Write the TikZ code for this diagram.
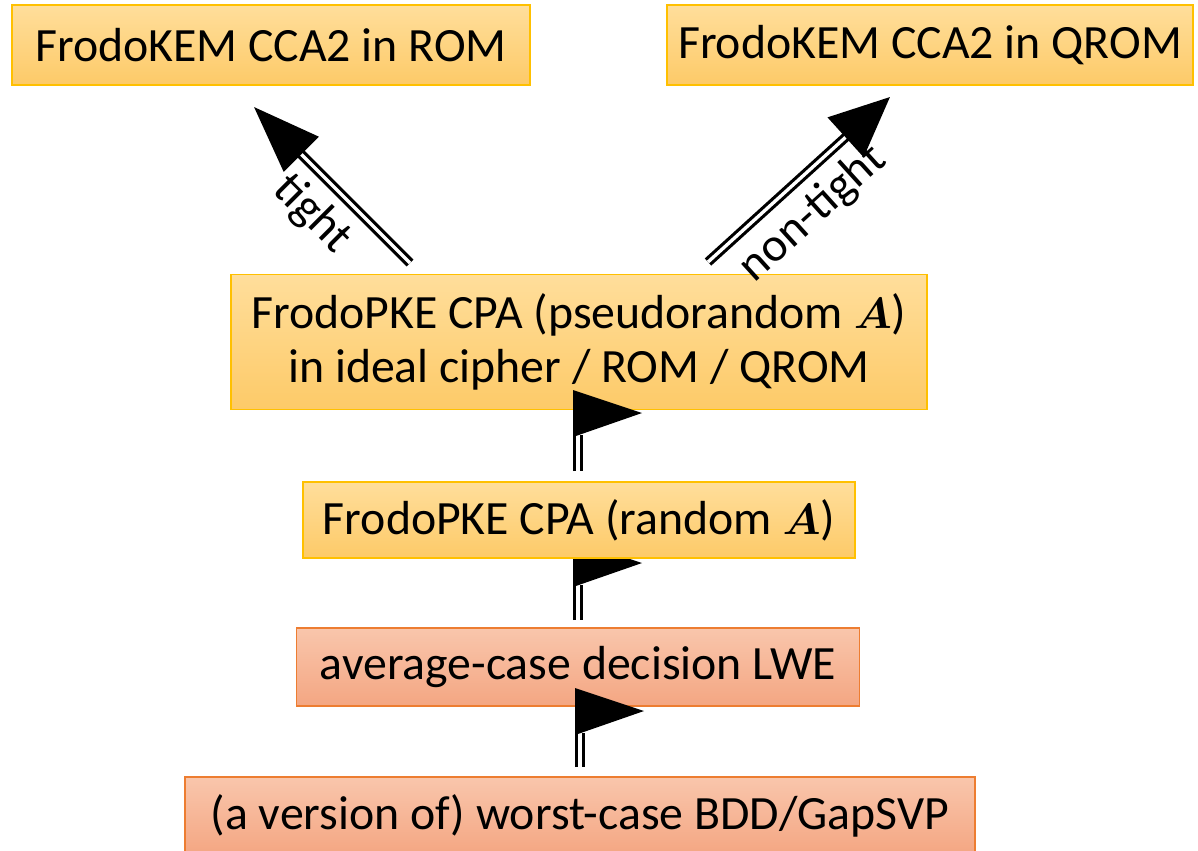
\documentclass[tikz,border=0pt]{standalone}
\usepackage{fontspec}
\setmainfont{Carlito}
\usepackage{amsmath}
\usetikzlibrary{arrows.meta,backgrounds}

\definecolor{ytop}{RGB}{255,222,155}
\definecolor{ybot}{RGB}{253,202,104}
\definecolor{yline}{RGB}{255,192,0}
\definecolor{otop}{RGB}{249,198,172}
\definecolor{obot}{RGB}{244,166,130}
\definecolor{oline}{RGB}{237,125,49}

\tikzset{
  box/.style={draw, line width=1pt, inner sep=0pt, align=center, font=\fontsize{27.2}{31}\selectfont},
  ybox/.style={box, draw=yline, top color=ytop, bottom color=ybot},
  obox/.style={box, draw=oline, top color=otop, bottom color=obot},
  dbl/.style={double, line width=1.8pt, double distance=1.9pt},
  lbl/.style={sloped, below, inner sep=7pt, font=\fontsize{27.2}{31}\selectfont},
}
\newcommand{\flagtip}[1]{\fill (#1) ++(-5,2) -- ++(0,-47) -- ++(69,23) -- cycle;}

\begin{document}
\begin{tikzpicture}[x=0.02cm, y=-0.02cm]
    \path[use as bounding box, clip] (0,0) rectangle (1198,850);
    \node[ybox, minimum width=10.36cm, minimum height=1.6cm] (kemrom) at (271,45) {FrodoKEM CCA2 in ROM};
    \node[ybox, minimum width=10.52cm, minimum height=1.6cm] (kemqrom) at (930,45) {FrodoKEM CCA2 in QROM};
    \node[ybox, minimum width=13.92cm, minimum height=2.7cm] (pkeprf) at (579,342) {FrodoPKE CPA (pseudorandom $\boldsymbol{A}$)\\in ideal cipher / ROM / QROM};
    \node[ybox, minimum width=11.04cm, minimum height=1.52cm] (pkernd) at (579,520) {FrodoPKE CPA (random $\boldsymbol{A}$)};
    \node[obox, minimum width=11.26cm, minimum height=1.56cm] (lwe) at (578,667) {average-case decision LWE};
    \node[obox, minimum width=15.8cm, minimum height=1.56cm] (bdd) at (580,816) {(a version of) worst-case BDD/GapSVP};
    % reductions up to the KEM
    \coordinate (t0) at (410,263);
    \coordinate (t1) at (254,107);
    \coordinate (n0) at (708,262);
    \coordinate (n1) at (890,97);
    \draw[dbl, -{Triangle[length=1.34cm, width=0.98cm]}] (t0) -- node[lbl, pos=0.47] {tight} (t1);
    \draw[dbl, -{Triangle[length=1.2cm, width=1.06cm]}] (n0) -- node[lbl, pos=0.45] {non-tight} (n1);
    % reductions along the stack
    \coordinate (f1) at (578,435);
    \coordinate (f2) at (578,585);
    \coordinate (f3) at (580,733);
    \draw[dbl, shorten <=0.2cm] (pkernd.north -| f1) -- (f1);
    \flagtip{f1}
    \begin{pgfonlayer}{background}
      \draw[dbl, shorten <=0.14cm] (lwe.north -| f2) -- (f2);
      \flagtip{f2}
    \end{pgfonlayer}
    \draw[dbl, shorten <=0.18cm] (bdd.north -| f3) -- (f3);
    \flagtip{f3}
  \end{tikzpicture}
\end{document}
